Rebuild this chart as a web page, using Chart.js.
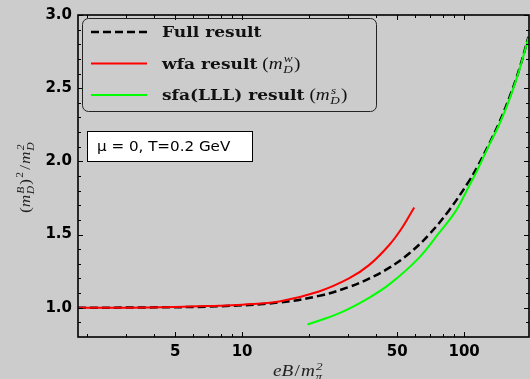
<!DOCTYPE html>
<html><head><meta charset="utf-8">
<script src="https://cdn.jsdelivr.net/npm/chart.js@4/dist/chart.umd.min.js"></script>
<style>html,body{margin:0;padding:0;background:#cccccc;overflow:hidden;}</style>
</head><body>
<canvas id="c" width="530" height="379" style="display:block;width:530px;height:379px"></canvas>
<script>
// ---- data ----
const fullX = [1.82, 3.8, 7.9, 14.7, 22.2, 30.3, 37.3, 45.9, 56.5, 69.5, 85.5, 104.5, 114.8, 129.6, 143.8, 159.5, 176.9, 194.9];
const fullY = [1.000, 1.002, 1.010, 1.036, 1.081, 1.142, 1.199, 1.272, 1.370, 1.500, 1.665, 1.858, 1.964, 2.119, 2.264, 2.431, 2.627, 2.851];
const wfaX = [1.82, 3.8, 7.9, 10, 14.7, 22.2, 30.3, 37.3, 45.9, 52.7, 59.6];
const wfaY = [1.000, 1.002, 1.014, 1.021, 1.043, 1.111, 1.200, 1.291, 1.427, 1.549, 1.685];
const sfaX = [19.7, 27.6, 37.3, 46.8, 62.6, 77.1, 91.8, 104.5, 114.8, 129.6, 143.8, 159.5, 176.9, 194.9];
const sfaY = [0.885, 0.965, 1.068, 1.168, 1.341, 1.511, 1.662, 1.822, 1.941, 2.111, 2.250, 2.418, 2.620, 2.845];
const seriesNames = ['Full result', 'wfa result', 'sfa(LLL) result'];
const seriesSup = ['', 'w', 's'];
const xTickLabels = [5, 10, 50, 100];
const xMinorTicks = [2, 3, 4, 6, 7, 8, 9, 20, 30, 40, 60, 70, 80, 90];
const yTickLabels = [1.0, 1.5, 2.0, 2.5, 3.0];
const yMinorTicks = [0.9, 1.1, 1.2, 1.3, 1.4, 1.6, 1.7, 1.8, 1.9, 2.1, 2.2, 2.3, 2.4, 2.6, 2.7, 2.8, 2.9];
const annotationText = 'μ = 0, T=0.2 GeV';

const toPts = (xs, ys) => xs.map((x, i) => ({x: x, y: ys[i]}));

const SERIF = '"Liberation Serif", "DejaVu Serif", serif';

function mathM(ctx, x, y, size, base, sub, sup) {
  ctx.font = 'italic ' + size + 'px ' + SERIF;
  ctx.fillText(base, x, y);
  x += ctx.measureText(base).width;
  const s = Math.round(size * 0.68);
  ctx.font = 'italic ' + s + 'px ' + SERIF;
  let w = 0;
  if (sub) { ctx.fillText(sub, x + 0.5, y + size * 0.28); w = Math.max(w, ctx.measureText(sub).width + 0.5); }
  if (sup) { ctx.fillText(sup, x + 1, y - size * 0.38); w = Math.max(w, ctx.measureText(sup).width + 1); }
  return x + w;
}
function upright(ctx, x, y, size, t) {
  ctx.font = size + 'px ' + SERIF;
  ctx.fillText(t, x, y);
  return x + ctx.measureText(t).width;
}
function stretched(ctx, x, y, sx, fn) {
  ctx.save();
  ctx.translate(x, y);
  ctx.scale(sx, 1);
  const w = fn(ctx);
  ctx.restore();
  return x + w * sx;
}

const decor = {
  id: 'decor',
  beforeDraw(chart) {
    const ctx = chart.ctx;
    ctx.save();
    ctx.fillStyle = '#cccccc';
    ctx.fillRect(0, 0, chart.width, chart.height);
    ctx.restore();
  },
  afterDraw(chart) {
    const ctx = chart.ctx;
    const a = chart.chartArea;
    const xs = chart.scales.x, ys = chart.scales.y;
    ctx.save();
    ctx.strokeStyle = '#000';
    ctx.lineWidth = 1.6;
    ctx.strokeRect(a.left, a.top, a.right - a.left, a.bottom - a.top);
    ctx.lineWidth = 1;
    const tickX = (v, len) => {
      const p = Math.round(xs.getPixelForValue(v)) + 0.5;
      ctx.beginPath();
      ctx.moveTo(p, a.bottom); ctx.lineTo(p, a.bottom - len);
      ctx.moveTo(p, a.top); ctx.lineTo(p, a.top + len);
      ctx.stroke();
    };
    const tickY = (v, len) => {
      const p = Math.round(ys.getPixelForValue(v)) + 0.5;
      ctx.beginPath();
      ctx.moveTo(a.left, p); ctx.lineTo(a.left + len, p);
      ctx.moveTo(a.right, p); ctx.lineTo(a.right - len, p);
      ctx.stroke();
    };
    xTickLabels.forEach(v => tickX(v, 5));
    xMinorTicks.forEach(v => tickX(v, 3));
    yTickLabels.forEach(v => tickY(v, 5));
    yMinorTicks.forEach(v => tickY(v, 3));

    // legend box
    const lx = 82.5, ly = 18.5, lw = 294, lh = 93, r = 6;
    ctx.beginPath();
    ctx.moveTo(lx + r, ly);
    ctx.arcTo(lx + lw, ly, lx + lw, ly + lh, r);
    ctx.arcTo(lx + lw, ly + lh, lx, ly + lh, r);
    ctx.arcTo(lx, ly + lh, lx, ly, r);
    ctx.arcTo(lx, ly, lx + lw, ly, r);
    ctx.closePath();
    ctx.strokeStyle = '#222';
    ctx.lineWidth = 1;
    ctx.stroke();
    const rows = [32, 63.5, 95];
    chart.data.datasets.forEach((ds, i) => {
      const yy = rows[i];
      ctx.beginPath();
      ctx.strokeStyle = ds.borderColor;
      ctx.lineWidth = ds.borderWidth;
      ctx.setLineDash(ds.borderDash || []);
      ctx.moveTo(91, yy); ctx.lineTo(147, yy);
      ctx.stroke();
      ctx.setLineDash([]);
      ctx.fillStyle = '#111';
      ctx.textBaseline = 'alphabetic';
      let x = stretched(ctx, 162, yy + 5, 1.22, c => {
        c.font = 'bold 14px "DejaVu Serif", serif';
        c.fillText(seriesNames[i], 0, 0);
        return c.measureText(seriesNames[i]).width;
      });
      if (seriesSup[i]) {
        stretched(ctx, x + 5, yy + 5, 1.2, c => {
          let t = upright(c, 0, 0, 16, '(');
          t = mathM(c, t, 0, 16, 'm', 'D', seriesSup[i]);
          return upright(c, t + 1, 0, 16, ')');
        });
      }
    });

    // annotation box
    ctx.fillStyle = '#fff';
    ctx.fillRect(87.5, 131.5, 165, 30);
    ctx.strokeStyle = '#000';
    ctx.lineWidth = 1;
    ctx.strokeRect(87.5, 131.5, 165, 30);
    ctx.fillStyle = '#000';
    stretched(ctx, 97, 151, 1.08, c => {
      c.font = '14px "DejaVu Sans", sans-serif';
      c.fillText(annotationText, 0, 0);
      return c.measureText(annotationText).width;
    });

    // x axis title
    ctx.fillStyle = '#222';
    stretched(ctx, 273, 376, 1.2, c => {
      let t = mathM(c, 0, 0, 16, 'eB', '', '');
      t = upright(c, t + 1, 0, 16, '/');
      return mathM(c, t + 1, 0, 16, 'm', 'π', '2');
    });

    // y axis title (rotated)
    ctx.save();
    ctx.translate(30, 213);
    ctx.rotate(-Math.PI / 2);
    stretched(ctx, 0, 0, 1.15, c => {
      let t = upright(c, 0, 0, 15, '(');
      t = mathM(c, t, 0, 15, 'm', 'D', 'B');
      t = upright(c, t + 1, 0, 15, ')');
      c.font = '10px ' + SERIF;
      c.fillText('2', t + 1, -7);
      t += c.measureText('2').width + 3;
      t = upright(c, t, 0, 15, '/');
      return mathM(c, t + 1, 0, 15, 'm', 'D', '2');
    });
    ctx.restore();

    ctx.restore();
  }
};

new Chart(document.getElementById('c'), {
  type: 'line',
  data: {
    datasets: [
      {label: seriesNames[0], data: toPts(fullX, fullY), borderColor: '#000000', borderWidth: 2.5, borderDash: [8, 4], pointRadius: 0, fill: false, tension: 0.4, order: 3},
      {label: seriesNames[1], data: toPts(wfaX, wfaY), borderColor: '#ff0000', borderWidth: 2, pointRadius: 0, fill: false, tension: 0.4, order: 1},
      {label: seriesNames[2], data: toPts(sfaX, sfaY), borderColor: '#00ff00', borderWidth: 2, pointRadius: 0, fill: false, tension: 0.4, order: 2}
    ]
  },
  options: {
    responsive: false,
    animation: false,
    devicePixelRatio: 1,
    layout: {padding: {top: 13, right: 1, left: 0, bottom: 0}},
    plugins: {legend: {display: false}, tooltip: {enabled: false}},
    scales: {
      x: {
        type: 'logarithmic', min: 1.824, max: 196,
        afterBuildTicks: s => { s.ticks = xTickLabels.map(v => ({value: v})); },
        afterFit: s => { s.height = 42; },
        grid: {display: false, drawTicks: false},
        border: {display: false},
        ticks: {autoSkip: false, maxRotation: 0, padding: 6, color: '#000',
          font: {family: '"DejaVu Sans", sans-serif', weight: 'bold', size: 15},
          callback: v => String(v)}
      },
      y: {
        type: 'linear', min: 0.8, max: 3.0,
        afterBuildTicks: s => { s.ticks = yTickLabels.map(v => ({value: v})); },
        afterFit: s => { s.width = 78; },
        grid: {display: false, drawTicks: false},
        border: {display: false},
        ticks: {autoSkip: false, padding: 6, color: '#000',
          font: {family: '"DejaVu Sans", sans-serif', weight: 'bold', size: 15},
          callback: v => Number(v).toFixed(1)}
      }
    }
  },
  plugins: [decor]
});
</script>
</body></html>
